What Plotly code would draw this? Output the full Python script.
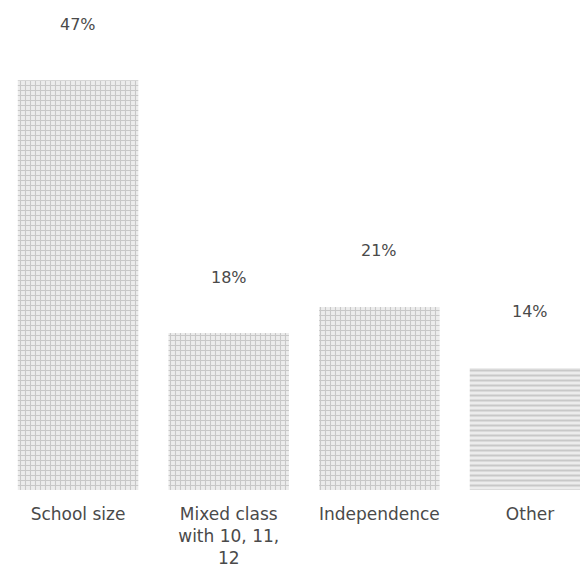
import plotly.graph_objects as go

categories = ["School size", "Mixed class<br>with 10, 11,<br>12", "Independence", "Other"]
values = [47, 18, 21, 14]
labels = ["47%", "18%", "21%", "14%"]
patterns = ["+", "+", "+", "-"]

fig = go.Figure()

fig.add_trace(go.Bar(
    x=categories,
    y=values,
    width=0.8,
    marker=dict(
        color="#ececec",
        line=dict(width=0),
        pattern=dict(shape=patterns, size=5, solidity=0.4, fgcolor="#a4a4a4", fillmode="overlay"),
    ),
    hoverinfo="skip",
))

# percentage labels floating above each bar
for cat, val, lab in zip(categories, values, labels):
    fig.add_annotation(
        x=cat, y=val, text=lab, showarrow=False,
        yshift=56, yanchor="middle",
        font=dict(family="DejaVu Sans", size=16, color="#4a4a4a"),
    )

# page body has an 8px margin, so ranges are set to line up with the page
fig.update_layout(
    width=588, height=578,
    margin=dict(l=0, r=0, t=0, b=96),
    paper_bgcolor="white",
    plot_bgcolor="white",
    showlegend=False,
    xaxis=dict(
        range=[-0.465, 3.438],
        showgrid=False, zeroline=False, showline=False, ticks="",
        tickfont=dict(family="DejaVu Sans", size=17, color="#4a4a4a"),
        ticklabelstandoff=12,
    ),
    yaxis=dict(
        range=[0, 55.3], visible=False, showgrid=False, zeroline=False,
    ),
)

fig.write_html("out.html")
